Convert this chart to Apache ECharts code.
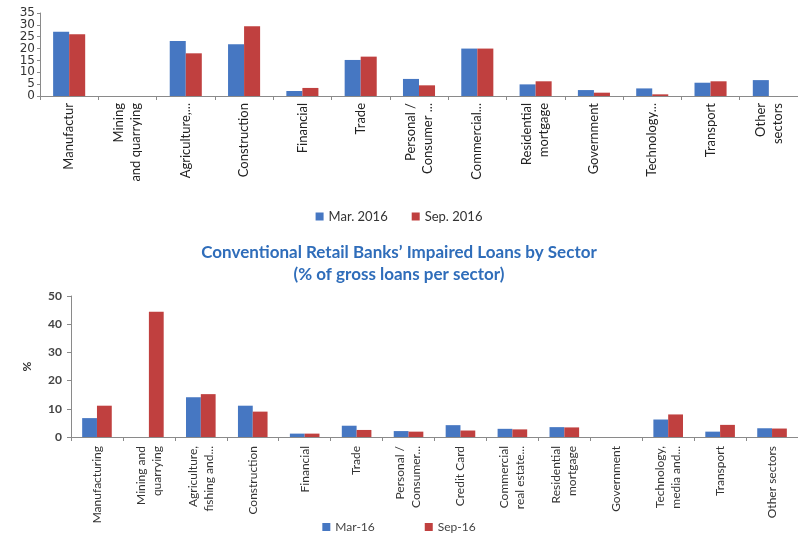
<!DOCTYPE html>
<html>
<head>
<meta charset="utf-8">
<script src="https://cdn.jsdelivr.net/npm/echarts@6/dist/echarts.min.js"></script>
<style>html,body{margin:0;padding:0;background:#fff}#c{width:798px;height:536px}</style>
</head>
<body>
<div id="c"></div>
<script>
// Top chart
const topCategories = ["Manufactur", "Mining\nand quarrying", "Agriculture,...", "Construction", "Financial", "Trade", "Personal /\nConsumer ...", "Commercial...", "Residential\nmortgage", "Government", "Technology...", "Transport", "Other\nsectors"];
const topMar2016 = [27.1, 0, 23.2, 21.8, 2.1, 15.2, 7.2, 20.0, 4.9, 2.5, 3.2, 5.6, 6.7];
const topSep2016 = [26.0, 0, 18.0, 29.4, 3.4, 16.6, 4.5, 20.0, 6.2, 1.4, 0.7, 6.2, 0];
const topYTicks = [0, 5, 10, 15, 20, 25, 30, 35];

// Bottom chart
const bottomTitle = "Conventional Retail Banks\u2019 Impaired Loans by Sector";
const bottomSubtitle = "(% of gross loans per sector)";
const bottomCategories = ["Manufacturing", "Mining and\nquarrying", "Agriculture,\nfishing and...", "Construction", "Financial", "Trade", "Personal /\nConsumer...", "Credit Card", "Commercial\nreal estate...", "Residential\nmortgage", "Government", "Technology,\nmedia and...", "Transport", "Other sectors"];
const bottomMar16 = [6.7, 0, 14.1, 11.1, 1.2, 4.0, 2.1, 4.2, 2.9, 3.5, 0, 6.2, 1.9, 3.1];
const bottomSep16 = [11.1, 44.4, 15.2, 9.0, 1.2, 2.5, 1.9, 2.3, 2.7, 3.4, 0, 8.0, 4.3, 3.0];
const bottomYTicks = [0, 10, 20, 30, 40, 50];

const BLUE = '#4677C2';
const RED = '#C0403F';
const FONT = 'Lato';

const chart = echarts.init(document.getElementById('c'));
chart.setOption({
  animation: false,
  backgroundColor: '#fff',
  textStyle: { fontFamily: FONT },
  title: {
    text: bottomTitle + '\n' + bottomSubtitle,
    left: 'center',
    top: 237,
    textStyle: { fontFamily: FONT, fontWeight: 'bold', fontSize: 17, color: '#2F6DBA', lineHeight: 22 }
  },
  legend: [
    {
      data: ['Mar. 2016', 'Sep. 2016'],
      top: 205, left: 'center',
      itemWidth: 8, itemHeight: 8, itemGap: 24,
      icon: 'rect',
      textStyle: { fontFamily: FONT, fontSize: 13, color: '#333' }
    },
    {
      data: ['Mar-16', 'Sep-16'],
      top: 516, left: 'center',
      itemWidth: 8, itemHeight: 8, itemGap: 50,
      icon: 'rect',
      textStyle: { fontFamily: FONT, fontSize: 12, color: '#444' }
    }
  ],
  grid: [
    { left: 40, top: 13, width: 763, height: 83 },
    { left: 71, top: 296, width: 732, height: 141 }
  ],
  xAxis: [
    {
      gridIndex: 0, type: 'category', data: topCategories,
      axisLine: { lineStyle: { color: '#8a8a8a' } },
      axisTick: { show: true, lineStyle: { color: '#8a8a8a' }, length: 4 },
      axisLabel: { rotate: 90, interval: 0, margin: 7, fontSize: 13, color: '#222', fontFamily: FONT, lineHeight: 17 }
    },
    {
      gridIndex: 1, type: 'category', data: bottomCategories,
      axisLine: { lineStyle: { color: '#8a8a8a' } },
      axisTick: { show: true, lineStyle: { color: '#8a8a8a' }, length: 4 },
      axisLabel: { rotate: 90, interval: 0, margin: 9, fontSize: 12, color: '#333', fontFamily: FONT, lineHeight: 16 }
    }
  ],
  yAxis: [
    {
      gridIndex: 0, type: 'value', min: topYTicks[0], max: topYTicks[topYTicks.length - 1], interval: topYTicks[1] - topYTicks[0],
      axisLine: { show: true, lineStyle: { color: '#8a8a8a' } },
      axisTick: { show: true, length: 3, lineStyle: { color: '#8a8a8a' } },
      splitLine: { show: false },
      axisLabel: { fontSize: 12, color: '#333', margin: 5, fontFamily: 'DejaVu Sans', showMinLabel: true, showMaxLabel: true, hideOverlap: false, lineHeight: 11 }
    },
    {
      gridIndex: 1, type: 'value', min: bottomYTicks[0], max: bottomYTicks[bottomYTicks.length - 1], interval: bottomYTicks[1] - bottomYTicks[0],
      name: '%', nameLocation: 'middle', nameGap: 38, nameRotate: 90,
      nameTextStyle: { fontSize: 12, color: '#333', fontWeight: 'bold' },
      axisLine: { show: true, lineStyle: { color: '#8a8a8a' } },
      axisTick: { show: true, length: 4, lineStyle: { color: '#8a8a8a' } },
      splitLine: { show: false },
      axisLabel: { fontSize: 12, color: '#444', margin: 9, fontWeight: 'bold', showMinLabel: true, showMaxLabel: true }
    }
  ],
  series: [
    { name: 'Mar. 2016', type: 'bar', xAxisIndex: 0, yAxisIndex: 0, data: topMar2016, itemStyle: { color: BLUE }, barGap: '0%', barCategoryGap: '45%' },
    { name: 'Sep. 2016', type: 'bar', xAxisIndex: 0, yAxisIndex: 0, data: topSep2016, itemStyle: { color: RED }, barGap: '0%', barCategoryGap: '45%' },
    { name: 'Mar-16', type: 'bar', xAxisIndex: 1, yAxisIndex: 1, data: bottomMar16, itemStyle: { color: BLUE }, barGap: '0%', barCategoryGap: '43%' },
    { name: 'Sep-16', type: 'bar', xAxisIndex: 1, yAxisIndex: 1, data: bottomSep16, itemStyle: { color: RED }, barGap: '0%', barCategoryGap: '43%' }
  ]
});
</script>
</body>
</html>
